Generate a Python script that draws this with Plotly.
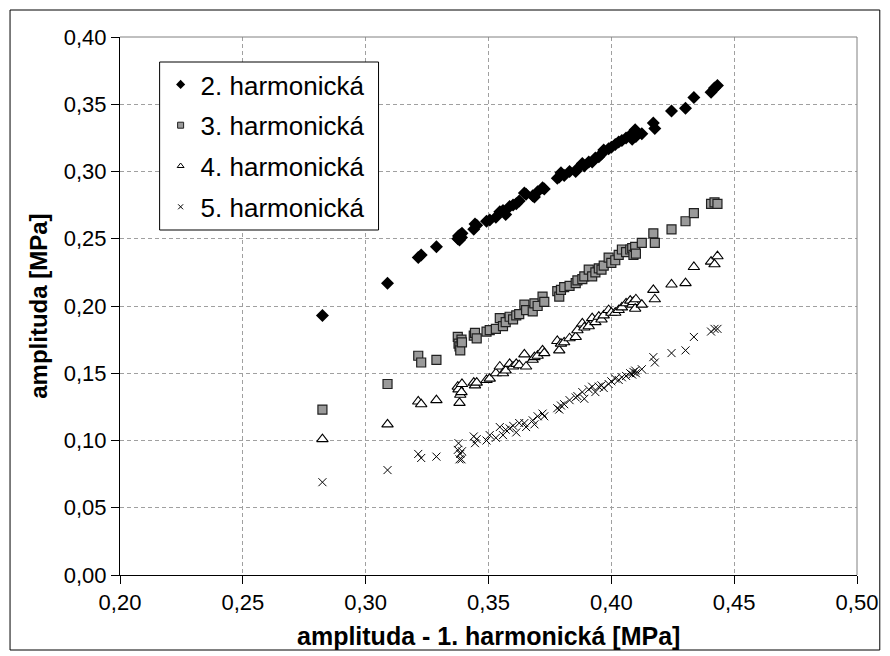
import plotly.graph_objects as go

# ---------------- data ----------------
x_h1 = [0.2824, 0.3089, 0.3214, 0.3226, 0.3288, 0.3375, 0.3378, 0.3382, 0.3385, 0.3390,
        0.3392, 0.3440, 0.3445, 0.3452, 0.3492, 0.3505, 0.3530, 0.3546, 0.3559, 0.3570,
        0.3586, 0.3600, 0.3613, 0.3625, 0.3646, 0.3653, 0.3680, 0.3687, 0.3700, 0.3720,
        0.3727, 0.3780, 0.3788, 0.3795, 0.3808, 0.3830, 0.3855, 0.3862, 0.3882, 0.3890,
        0.3908, 0.3922, 0.3935, 0.3949, 0.3960, 0.3969, 0.3989, 0.4000, 0.4016, 0.4030,
        0.4043, 0.4060, 0.4077, 0.4085, 0.4090, 0.4097, 0.4100, 0.4124, 0.4171, 0.4177,
        0.4245, 0.4302, 0.4336, 0.4406, 0.4420, 0.4432]
y_h2 = [0.193, 0.217, 0.236, 0.238, 0.244, 0.250, 0.252, 0.249, 0.253, 0.251,
        0.254, 0.257, 0.261, 0.260, 0.263, 0.264, 0.266, 0.270, 0.271, 0.268,
        0.274, 0.275, 0.276, 0.278, 0.284, 0.283, 0.282, 0.281, 0.285, 0.288,
        0.287, 0.295, 0.296, 0.299, 0.297, 0.300, 0.300, 0.302, 0.306, 0.304,
        0.307, 0.307, 0.310, 0.311, 0.313, 0.316, 0.317, 0.318, 0.320, 0.322,
        0.323, 0.325, 0.327, 0.324, 0.329, 0.331, 0.326, 0.328, 0.336, 0.332,
        0.345, 0.347, 0.355, 0.359, 0.362, 0.364]
y_h3 = [0.123, 0.142, 0.163, 0.158, 0.160, 0.177, 0.172, 0.170, 0.167, 0.175,
        0.173, 0.178, 0.180, 0.176, 0.181, 0.182, 0.183, 0.191, 0.185, 0.188,
        0.192, 0.190, 0.193, 0.194, 0.201, 0.197, 0.196, 0.202, 0.200, 0.207,
        0.203, 0.211, 0.207, 0.212, 0.214, 0.215, 0.217, 0.219, 0.220, 0.222,
        0.227, 0.222, 0.225, 0.228, 0.227, 0.230, 0.236, 0.232, 0.234, 0.238,
        0.242, 0.240, 0.242, 0.243, 0.238, 0.244, 0.239, 0.247, 0.254, 0.247,
        0.257, 0.263, 0.269, 0.276, 0.277, 0.276]
y_h4 = [0.101, 0.112, 0.129, 0.127, 0.130, 0.140, 0.138, 0.128, 0.134, 0.136,
        0.142, 0.143, 0.141, 0.143, 0.145, 0.146, 0.150, 0.155, 0.150, 0.152,
        0.157, 0.155, 0.157, 0.156, 0.164, 0.155, 0.160, 0.162, 0.163, 0.167,
        0.165, 0.174, 0.167, 0.172, 0.173, 0.176, 0.177, 0.182, 0.187, 0.184,
        0.185, 0.191, 0.188, 0.192, 0.190, 0.193, 0.197, 0.195, 0.195, 0.197,
        0.199, 0.202, 0.204, 0.201, 0.203, 0.198, 0.205, 0.201, 0.212, 0.205,
        0.216, 0.217, 0.229, 0.233, 0.231, 0.237]
y_h5 = [0.069, 0.078, 0.090, 0.087, 0.088, 0.093, 0.098, 0.086, 0.090, 0.086,
        0.092, 0.103, 0.098, 0.101, 0.100, 0.104, 0.102, 0.110, 0.104, 0.108,
        0.109, 0.111, 0.106, 0.113, 0.113, 0.110, 0.115, 0.112, 0.118, 0.120,
        0.118, 0.124, 0.123, 0.126, 0.127, 0.130, 0.132, 0.133, 0.136, 0.131,
        0.138, 0.140, 0.136, 0.140, 0.141, 0.139, 0.142, 0.144, 0.146, 0.145,
        0.147, 0.148, 0.150, 0.149, 0.151, 0.152, 0.150, 0.153, 0.162, 0.158,
        0.165, 0.167, 0.177, 0.181, 0.183, 0.183]

series_names = ["2. harmonická", "3. harmonická", "4. harmonická", "5. harmonická"]

x_ticks = [0.20, 0.25, 0.30, 0.35, 0.40, 0.45, 0.50]
x_ticklabels = ["0,20", "0,25", "0,30", "0,35", "0,40", "0,45", "0,50"]
y_ticks = [0.00, 0.05, 0.10, 0.15, 0.20, 0.25, 0.30, 0.35, 0.40]
y_ticklabels = ["0,00", "0,05", "0,10", "0,15", "0,20", "0,25", "0,30", "0,35", "0,40"]

x_title = "amplituda - 1. harmonická [MPa]"
y_title = "amplituda [MPa]"

# ---------------- styles ----------------
FONT = "Liberation Sans, Arial, sans-serif"
GRID = "#a0a0a0"
styles = [
    dict(symbol="diamond", size=10, color="black", line=dict(width=0)),
    dict(symbol="square", size=9, color="#9a9a9a", line=dict(width=1.2, color="#202020")),
    dict(symbol="triangle-up", size=10, color="white", line=dict(width=1.1, color="black")),
    dict(symbol="x-thin-open", size=8, color="black", line=dict(width=1, color="black")),
]
legend_styles = [
    dict(symbol="diamond", size=7, color="black", line=dict(width=0)),
    dict(symbol="square", size=6, color="#9a9a9a", line=dict(width=1, color="#202020")),
    dict(symbol="triangle-up", size=6, color="white", line=dict(width=1, color="black")),
    dict(symbol="x-thin-open", size=5, color="black", line=dict(width=1, color="black")),
]

fig = go.Figure()
for ys, st in zip([y_h2, y_h3, y_h4, y_h5], styles):
    fig.add_trace(go.Scatter(x=x_h1, y=ys, mode="markers", marker=st,
                             showlegend=False, hoverinfo="skip"))
for i, (name, st) in enumerate(zip(series_names, legend_styles)):
    fig.add_trace(go.Scatter(x=[None], y=[None], mode="markers", marker=st,
                             name=name, legendgroup=f"g{i}", showlegend=True))

W, H = 890, 656
L, R, T, B = 120, 26, 37, 81
pw, ph = W - L - R, H - T - B

def px_x(px):
    return (px - L) / pw

def px_y(py):
    return (H - B - py) / ph

axis_common = dict(showline=True, linecolor="black", linewidth=1,
                   ticks="outside", ticklen=8, tickcolor="black",
                   showgrid=True, gridcolor=GRID, griddash="4px,3px", gridwidth=1,
                   zeroline=False, tickfont=dict(size=22, family=FONT, color="black"))

fig.update_layout(
    width=W, height=H,
    margin=dict(l=L, r=R, t=T, b=B, pad=0),
    paper_bgcolor="white", plot_bgcolor="white",
    font=dict(family=FONT, color="black", size=22),
    xaxis=dict(range=[0.20, 0.50], tickvals=x_ticks, ticktext=x_ticklabels, **axis_common),
    yaxis=dict(range=[0.0, 0.40], tickvals=y_ticks, ticktext=y_ticklabels, **axis_common),
    legend=dict(x=px_x(160), y=px_y(60), xanchor="left", yanchor="top",
                bgcolor="rgba(0,0,0,0)", bordercolor="rgba(0,0,0,0)", borderwidth=1,
                font=dict(size=26, family=FONT, color="black"),
                traceorder="grouped", tracegroupgap=4, itemsizing="trace"),
    showlegend=True,
    annotations=[
        dict(text=f"<b>{x_title}</b>", xref="paper", yref="paper",
             x=0.5, y=px_y(636), xanchor="center", yanchor="middle",
             showarrow=False, font=dict(size=25, family=FONT)),
        dict(text=f"<b>{y_title}</b>", xref="paper", yref="paper",
             x=px_x(37), y=0.5, xanchor="center", yanchor="middle", textangle=-90,
             showarrow=False, font=dict(size=24, family=FONT)),
    ],
    shapes=[
        dict(type="line", xref="paper", yref="paper", x0=0, x1=1, y0=1, y1=1,
             line=dict(color="#808080", width=1)),
        dict(type="line", xref="paper", yref="paper", x0=1, x1=1, y0=0, y1=1,
             line=dict(color="#808080", width=1)),
        # legend frame
        dict(type="rect", xref="paper", yref="paper",
             x0=px_x(160), x1=px_x(381), y0=px_y(230), y1=px_y(62),
             line=dict(color="black", width=1), fillcolor="white", layer="above"),
        # outer chart border
        dict(type="rect", xref="paper", yref="paper",
             x0=px_x(9), x1=px_x(887), y0=px_y(650), y1=px_y(10),
             line=dict(color="black", width=1), fillcolor="rgba(0,0,0,0)", layer="above"),
    ],
)

fig.write_html("out.html")
